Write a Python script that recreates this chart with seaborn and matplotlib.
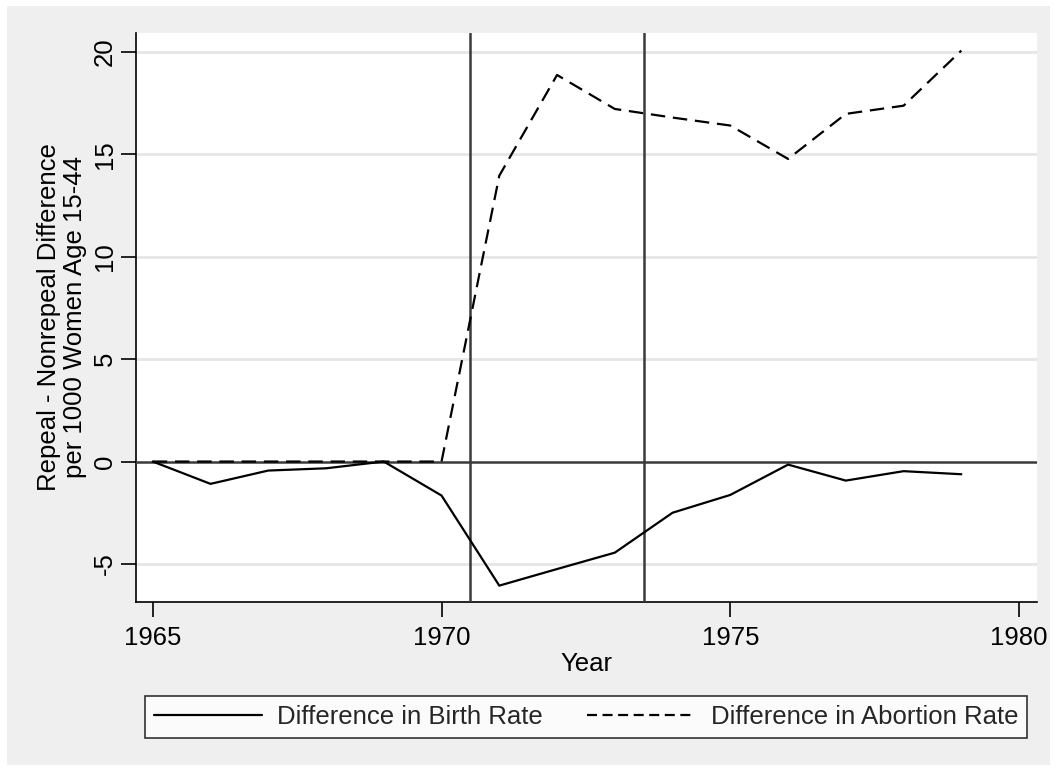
import matplotlib
matplotlib.use("Agg")
import matplotlib.pyplot as plt
import seaborn as sns
import pandas as pd
from matplotlib.patches import Rectangle
from matplotlib.lines import Line2D

years = [1965, 1966, 1967, 1968, 1969, 1970, 1971, 1972, 1973, 1974, 1975, 1976, 1977, 1978, 1979]
birth_diff = [0.0, -1.09, -0.44, -0.33, 0.0, -1.66, -6.06, -5.25, -4.45, -2.5, -1.63, -0.15, -0.93, -0.47, -0.62]
abortion_diff = [0.0, 0.0, 0.0, 0.0, 0.0, 0.0, 13.96, 18.88, 17.22, 16.8, 16.41, 14.78, 16.98, 17.38, 20.07]
series_names = ["Difference in Birth Rate", "Difference in Abortion Rate"]
x_ticks = [1965, 1970, 1975, 1980]
y_ticks = [-5, 0, 5, 10, 15, 20]
ref_years = [1970.5, 1973.5]

sns.set_theme(style="white")
plt.rcParams["font.family"] = ["Liberation Sans", "DejaVu Sans"]

W, H = 1056, 772
fig = plt.figure(figsize=(W / 100, H / 100), dpi=100)
fig.patch.set_facecolor("white")
fig.patches.append(Rectangle((7 / W, 1 - 765 / H), (1050 - 7) / W, (765 - 6) / H,
                             transform=fig.transFigure, facecolor="#EFEFEF",
                             edgecolor="none", zorder=-10))

ax = fig.add_axes([136 / W, 1 - 602 / H, (1037 - 136) / W, (602 - 33) / H])
ax.set_facecolor("white")

df = pd.DataFrame({
    "Year": years * 2,
    "value": birth_diff + abortion_diff,
    "series": [series_names[0]] * len(years) + [series_names[1]] * len(years),
})

dash_pat = (6.5, 3.5)
sns.lineplot(data=df, x="Year", y="value", style="series",
             dashes={series_names[0]: "", series_names[1]: dash_pat},
             color="black", linewidth=1.6, ax=ax, legend=False, zorder=4)

for xv in ref_years:
    ax.axvline(xv, color="#3A3A3A", linewidth=1.8, zorder=3)
ax.axhline(0, color="#3A3A3A", linewidth=1.8, zorder=3)

for yv in y_ticks:
    if yv != 0:
        ax.axhline(yv, color="#E6E6E6", linewidth=2, zorder=1)

ax.set_xlim(1964.71, 1980.31)
ax.set_ylim(-6.86, 20.93)
ax.set_xticks(x_ticks)
ax.set_yticks(y_ticks)
ax.set_yticklabels([str(v) for v in y_ticks], rotation=90, va="center")

for s in ["top", "right"]:
    ax.spines[s].set_visible(False)
for s in ["left", "bottom"]:
    ax.spines[s].set_color("black")
    ax.spines[s].set_linewidth(1.2)

ax.tick_params(axis="both", direction="out", length=11, width=1.2, color="black",
               labelsize=18.5, labelcolor="black", left=True, bottom=True)
ax.tick_params(axis="y", pad=3)
ax.tick_params(axis="x", pad=6)

ax.set_xlabel("Year", fontsize=18.5, color="black", labelpad=2)
ax.set_ylabel("Repeal - Nonrepeal Difference\nper 1000 Women Age 15-44",
              fontsize=18.5, color="black", labelpad=4, linespacing=1.1)

handles = [Line2D([], [], color="black", linewidth=1.6),
           Line2D([], [], color="black", linewidth=1.6, dashes=(4.5, 2.5))]
leg = fig.legend(handles, series_names, ncol=2, mode="expand",
                 bbox_to_anchor=(145 / W, 1 - 738 / H, (1027 - 145) / W, 50 / H),
                 loc="lower left", fontsize=18.5, frameon=True, fancybox=False,
                 handlelength=4.2, handletextpad=0.6, borderaxespad=0,
                 borderpad=0.35, columnspacing=1.5)
leg.get_frame().set_edgecolor("black")
leg.get_frame().set_linewidth(1.2)
leg.get_frame().set_facecolor("white")

fig.savefig("out.png", dpi=100, facecolor=fig.get_facecolor())
